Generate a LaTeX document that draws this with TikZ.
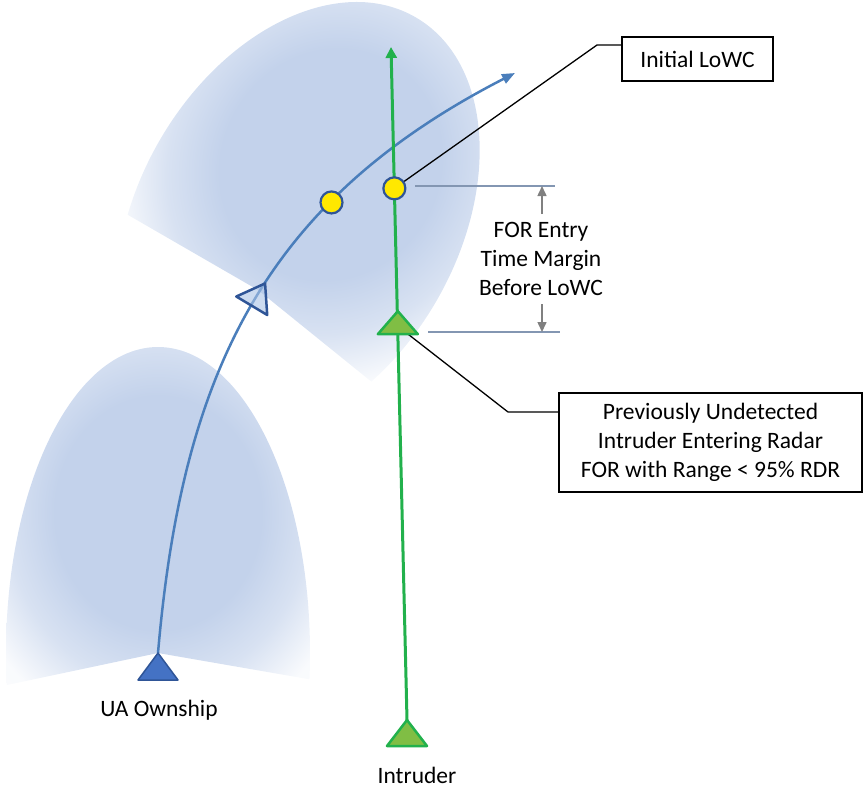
\documentclass[tikz,border=0pt]{standalone}
\usepackage{fontspec}
\setmainfont{Carlito}
\usetikzlibrary{arrows.meta,calc,decorations.markings}
\definecolor{fovc}{RGB}{195,210,235}
\definecolor{curveblue}{RGB}{74,126,187}
\definecolor{dkblue}{RGB}{47,85,151}
\definecolor{ownfill}{RGB}{68,114,196}
\definecolor{gline}{RGB}{34,177,76}
\definecolor{gfill}{RGB}{128,190,68}
\definecolor{yel}{RGB}{255,232,0}
\definecolor{dimc}{RGB}{131,150,178}
\definecolor{dimarr}{RGB}{128,128,128}
\definecolor{opfill}{RGB}{170,195,230}
\pgfdeclareradialshading{fovfade}{\pgfpoint{0bp}{0bp}}{color(0bp)=(fovc); color(17bp)=(fovc); color(25bp)=(fovc!65!white); color(33bp)=(fovc!10!white); color(50bp)=(white)}
\begin{document}
\begin{tikzpicture}[x=1pt,y=-1pt,
  txt/.style={font=\fontsize{23.5}{29}\selectfont, inner sep=0pt, align=center},
  boxnode/.style={draw=black, line width=1.8pt, fill=white, font=\fontsize{23.5}{29}\selectfont, align=center, inner sep=0pt},
  bluepath/.style={draw=curveblue, line width=2.5pt, -{Triangle[length=13pt,width=10pt]}},
  greenpath/.style={draw=gline, line width=3pt, -{Triangle[length=11pt,width=11pt]}},
  ycirc/.style={circle, draw=dkblue, fill=yel, line width=2.2pt, minimum size=22pt, inner sep=0pt},
  owntri/.style={draw=dkblue, fill=ownfill, line width=1.5pt, line join=round},
  gtri/.style={draw=gline, fill=gfill, line width=2.5pt, line join=round},
  opentri/.style={arrows=-, draw=dkblue, fill=opfill, fill opacity=0.6, line width=2.5pt, line join=round},
  leader/.style={draw=black, line width=1.3pt},
  dimline/.style={draw=dimc, line width=1.5pt},
  dimarrow/.style={draw=dimarr, line width=1.5pt, -{Triangle[length=10pt,width=9pt]}}
]
\useasboundingbox (0,0) rectangle (864,788);

% lower field of regard
\begin{scope}[transform canvas={shift={(158,653)}}]
  \clip (0,0) -- (-458,97) -- (-458,-653) -- (542,-653) -- (542,94) -- cycle;
  \clip (0,0) ellipse [x radius=152, y radius=306];
  \shade[shading=fovfade] (-152,-312) rectangle (152,32);
\end{scope}

% upper field of regard
\begin{scope}[transform canvas={shift={(258,290)}, rotate=-30}]
  \clip (0,0) -- (-400,0) -- (-400,-500) -- (400,-500) -- (400,63) -- cycle;
  \clip (0,-80) ellipse [x radius=160, y radius=235];
  \shade[shading=fovfade] (-160,-318) rectangle (160,28);
\end{scope}

\coordinate (V1) at (158,653);
\coordinate (Ct) at (515,73);
\coordinate (Ib) at (407,720);
\coordinate (Gt) at (391,47);

% ownship path
\draw[bluepath, postaction={decorate},
  decoration={markings, mark=at position 0.51 with {\draw[opentri] (-4,-18) -- (-4,18) -- (22,0) -- cycle;}}]
  (V1) .. controls (182,374) and (263.5,202) .. (Ct)
  node[ycirc, pos=0.7] (yc1) {};

% intruder path
\draw[greenpath] (Ib) -- (Gt)
  coordinate[pos=0.79] (y2pos)
  coordinate[pos=0.5733] (gtb);

% boxes
\node[boxnode, minimum width=151pt, minimum height=44pt] (box1) at (697.5,59) {Initial LoWC};
\node[boxnode, minimum width=303pt, minimum height=99pt] (box2) at (710.5,442.5)
  {Previously Undetected\\Intruder Entering Radar\\FOR with Range < 95\% RDR};

% leaders
\coordinate (gtc) at ($(gtb)+(0,-8)$);
\coordinate (k1) at (597,45);
\coordinate (k2) at (508,412);
\node[ycirc] (yc2) at (y2pos) {};
\draw[leader] (yc2) -- (k1) -- (k1 -| box1.west);
\draw[leader] (gtc) -- (k2) -- (k2 -| box2.west);

% triangles
\draw[owntri] ($(V1)+(-20,27)$) -- ($(V1)+(20,27)$) -- (V1) -- cycle;
\draw[gtri] ($(Ib)+(-20,26)$) -- ($(Ib)+(20,26)$) -- (Ib) -- cycle;
\draw[gtri] ($(gtb)+(-20,0)$) -- ($(gtb)+(20,0)$) -- ($(gtb)+(0,-23)$) -- cycle;

% dimension
\coordinate (m1a) at (415,186);
\coordinate (m1b) at (555,186);
\coordinate (m2a) at (428,332);
\coordinate (m2b) at (560,332);
\draw[dimline] (m1a) -- (m1b);
\draw[dimline] (m2a) -- (m2b);
\coordinate (a1) at (542,214);
\coordinate (a2) at (542,304);
\draw[dimarrow] (a1) -- (a1 |- m1a);
\draw[dimarrow] (a2) -- (a2 |- m2a);
\node[txt] (fortxt) at (541,259) {FOR Entry\\Time Margin\\Before LoWC};

% labels
\node[txt] (ownlbl) at (159,710) {UA Ownship};
\node[txt] (intlbl) at (417,775) {Intruder};
\end{tikzpicture}
\end{document}
